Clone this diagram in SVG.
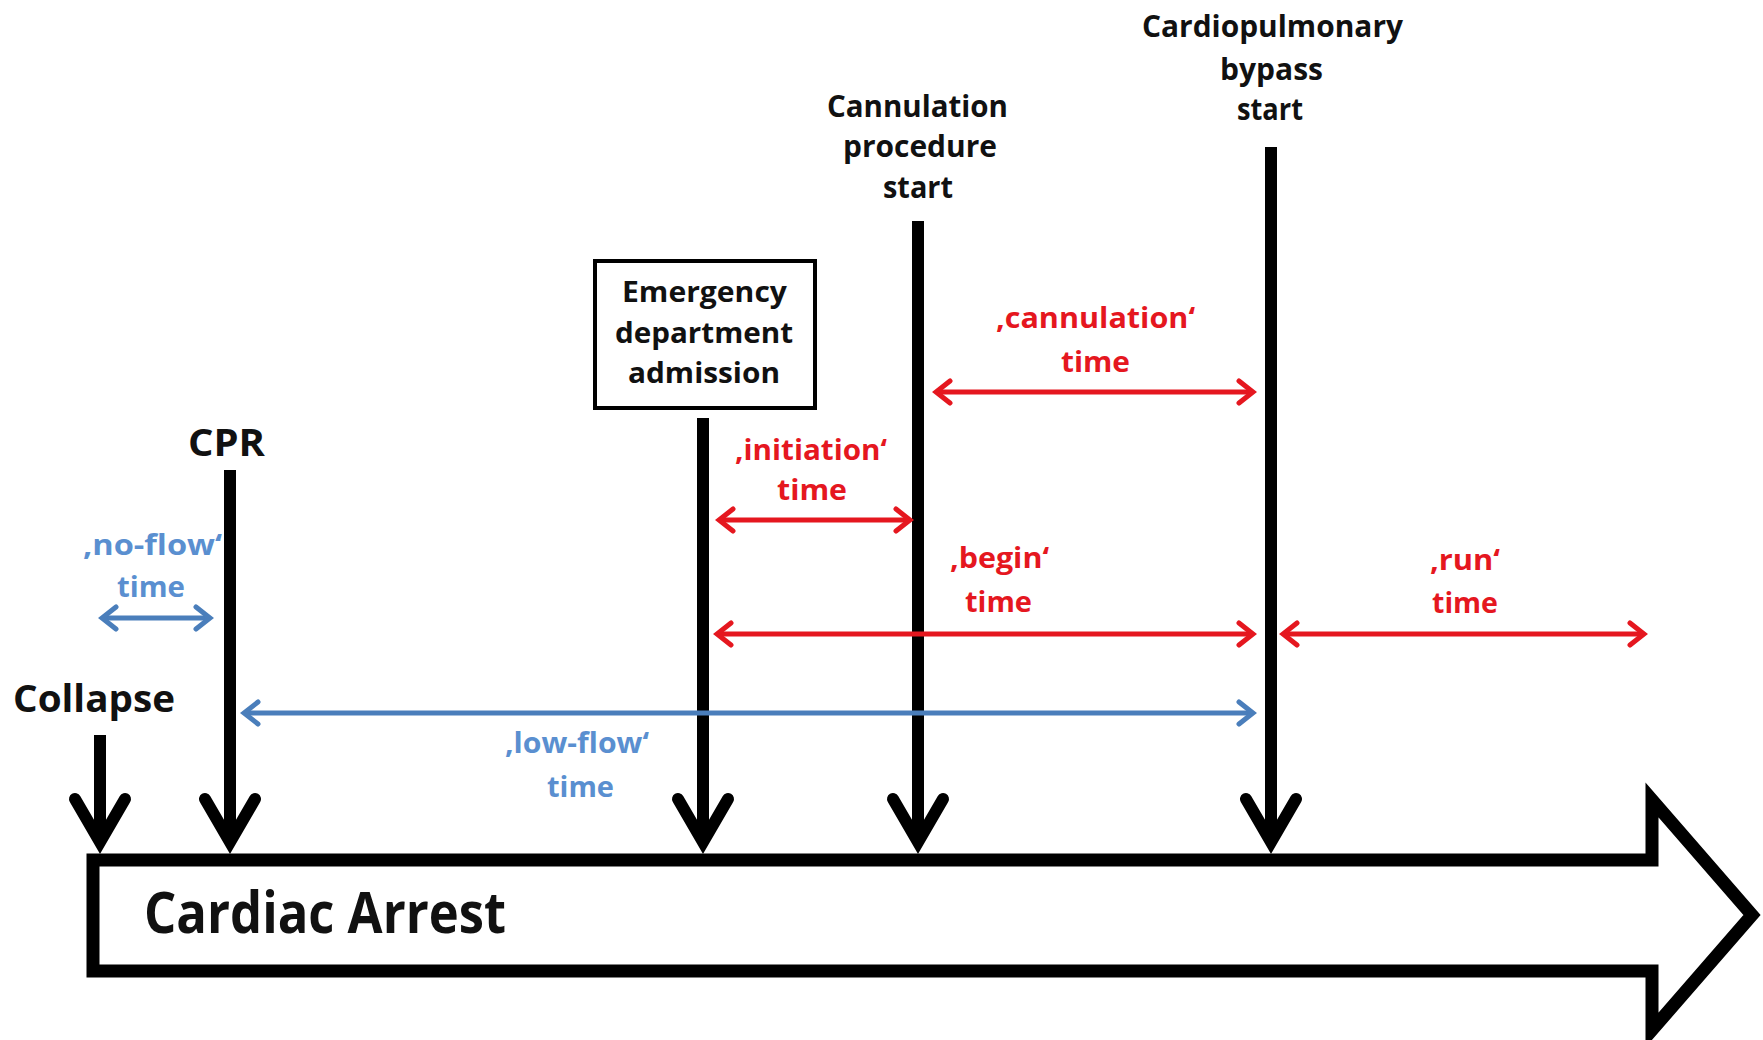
<svg xmlns="http://www.w3.org/2000/svg" width="1763" height="1040" viewBox="0 0 1763 1040">
<style>
  text { font-family: "Open Sans", "Liberation Sans", sans-serif; font-weight: 700; }
  .blk { fill: #111; }
  .lbl { font-size: 30px; }
  .red { fill: #e5171f; font-size: 29px; }
  .blu { fill: #5a8fd0; font-size: 29px; }
  .vline { stroke: #000; stroke-width: 12; fill: none; }
  .chev { stroke: #000; stroke-width: 12; fill: none; stroke-linecap: round; stroke-linejoin: miter; }
  .rarr { stroke: #e5171f; stroke-width: 5; fill: none; marker-start: url(#hr); marker-end: url(#hr); }
  .barr { stroke: #4a7ebb; stroke-width: 5; fill: none; marker-start: url(#hb); marker-end: url(#hb); }
</style>
<defs>
  <marker id="hr" markerUnits="userSpaceOnUse" viewBox="-20 -14 24 28" refX="0" refY="0" markerWidth="24" markerHeight="28" orient="auto-start-reverse">
    <path d="M -14 -11 L 0 0 L -14 11" fill="none" stroke="#e5171f" stroke-width="5" stroke-linecap="round"/>
  </marker>
  <marker id="hb" markerUnits="userSpaceOnUse" viewBox="-20 -14 24 28" refX="0" refY="0" markerWidth="24" markerHeight="28" orient="auto-start-reverse">
    <path d="M -14 -11 L 0 0 L -14 11" fill="none" stroke="#4a7ebb" stroke-width="5" stroke-linecap="round"/>
  </marker>
</defs>
<rect width="1763" height="1040" fill="#fff"/>

<g id="timeline">
  <polygon points="93,860 1652,860 1652,800 1752,915 1652,1030 1652,971 93,971" fill="#fff" stroke="#000" stroke-width="13" stroke-linejoin="miter"/>
  <text class="blk" x="144" y="933" font-size="57" textLength="362" lengthAdjust="spacingAndGlyphs">Cardiac Arrest</text>
</g>

<g id="collapse">
  <text class="blk" x="13" y="712" font-size="38" textLength="162" lengthAdjust="spacingAndGlyphs">Collapse</text>
  <line class="vline" x1="100" y1="735" x2="100" y2="840"/>
  <path class="chev" d="M 75 799 L 100 842 L 125 799"/>
</g>

<g id="cpr">
  <text class="blk" x="188" y="456" font-size="37" textLength="77" lengthAdjust="spacingAndGlyphs">CPR</text>
  <line class="vline" x1="230" y1="470" x2="230" y2="840"/>
  <path class="chev" d="M 205 799 L 230 842 L 255 799"/>
</g>

<g id="ed-admission">
  <rect x="595" y="261" width="220" height="147" fill="#fff" stroke="#000" stroke-width="4"/>
  <text class="blk" x="622" y="302" font-size="28" textLength="165" lengthAdjust="spacingAndGlyphs">Emergency</text>
  <text class="blk" x="615" y="343" font-size="28" textLength="178" lengthAdjust="spacingAndGlyphs">department</text>
  <text class="blk" x="628" y="383" font-size="28" textLength="152" lengthAdjust="spacingAndGlyphs">admission</text>
  <line class="vline" x1="703" y1="418" x2="703" y2="840"/>
  <path class="chev" d="M 678 799 L 703 842 L 728 799"/>
</g>

<g id="cannulation-start">
  <text class="blk lbl" x="827" y="117" textLength="181" lengthAdjust="spacingAndGlyphs">Cannulation</text>
  <text class="blk lbl" x="843" y="157" textLength="154" lengthAdjust="spacingAndGlyphs">procedure</text>
  <text class="blk lbl" x="883" y="198" textLength="70" lengthAdjust="spacingAndGlyphs">start</text>
  <line class="vline" x1="918" y1="221" x2="918" y2="840"/>
  <path class="chev" d="M 893 799 L 918 842 L 943 799"/>
</g>

<g id="cpb-start">
  <text class="blk lbl" x="1142" y="37" textLength="261" lengthAdjust="spacingAndGlyphs">Cardiopulmonary</text>
  <text class="blk lbl" x="1220" y="80" textLength="103" lengthAdjust="spacingAndGlyphs">bypass</text>
  <text class="blk lbl" x="1237" y="120" textLength="66" lengthAdjust="spacingAndGlyphs">start</text>
  <line class="vline" x1="1271" y1="147" x2="1271" y2="840"/>
  <path class="chev" d="M 1246 799 L 1271 842 L 1296 799"/>
</g>

<g id="connectors">
  <line class="rarr" x1="936" y1="392" x2="1253" y2="392"/>
  <line class="rarr" x1="719" y1="520" x2="910" y2="520"/>
  <line class="rarr" x1="717" y1="634" x2="1253" y2="634"/>
  <line class="rarr" x1="1283" y1="634" x2="1644" y2="634"/>
  <line class="barr" x1="102" y1="618" x2="210" y2="618"/>
  <line class="barr" x1="244" y1="713" x2="1253" y2="713"/>
</g>

<g id="label-cannulation-time">
  <text class="red" x="996" y="328" textLength="199" lengthAdjust="spacingAndGlyphs">‚cannulation‘</text>
  <text class="red" x="1061" y="372" textLength="69" lengthAdjust="spacingAndGlyphs">time</text>
</g>
<g id="label-initiation-time">
  <text class="red" x="735" y="460" textLength="152" lengthAdjust="spacingAndGlyphs">‚initiation‘</text>
  <text class="red" x="777" y="500" textLength="70" lengthAdjust="spacingAndGlyphs">time</text>
</g>
<g id="label-begin-time">
  <text class="red" x="950" y="568" textLength="99" lengthAdjust="spacingAndGlyphs">‚begin‘</text>
  <text class="red" x="965" y="612" textLength="67" lengthAdjust="spacingAndGlyphs">time</text>
</g>
<g id="label-run-time">
  <text class="red" x="1430" y="570" textLength="70" lengthAdjust="spacingAndGlyphs">‚run‘</text>
  <text class="red" x="1432" y="613" textLength="66" lengthAdjust="spacingAndGlyphs">time</text>
</g>
<g id="label-no-flow-time">
  <text class="blu" x="83" y="555" textLength="139" lengthAdjust="spacingAndGlyphs">‚no-flow‘</text>
  <text class="blu" x="117" y="597" textLength="68" lengthAdjust="spacingAndGlyphs">time</text>
</g>
<g id="label-low-flow-time">
  <text class="blu" x="505" y="753" textLength="144" lengthAdjust="spacingAndGlyphs">‚low-flow‘</text>
  <text class="blu" x="547" y="797" textLength="67" lengthAdjust="spacingAndGlyphs">time</text>
</g>
</svg>
